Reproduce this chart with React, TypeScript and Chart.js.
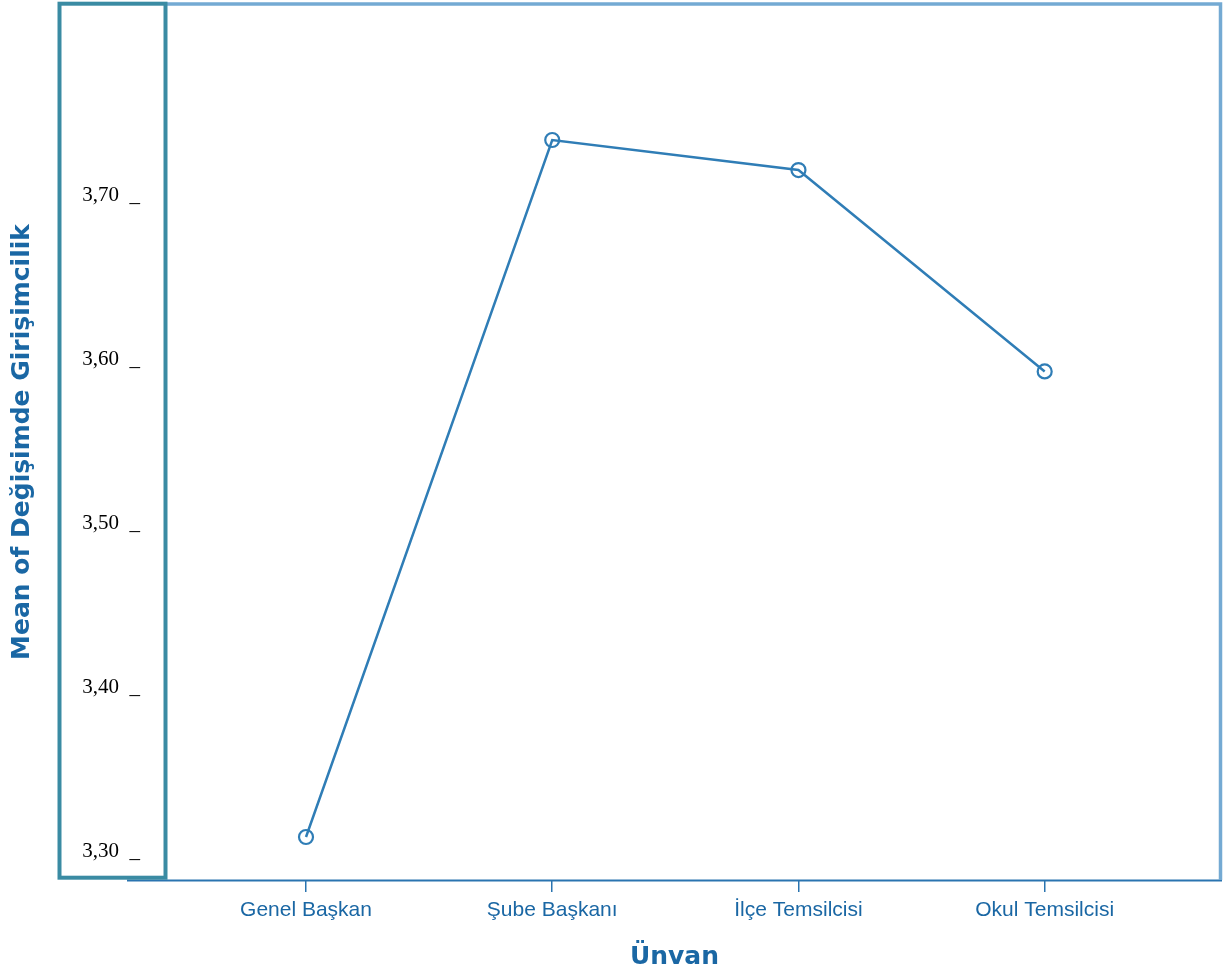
import React, { useEffect, useRef } from "react";
import { Chart, registerables } from "chart.js";

Chart.register(...registerables);

const CATEGORIES = ["Genel Başkan", "Şube Başkanı", "İlçe Temsilcisi", "Okul Temsilcisi"];
const MEANS = [3.307, 3.732, 3.7137, 3.5909];
const Y_TICKS = [3.3, 3.4, 3.5, 3.6, 3.7];
const X_TITLE = "Ünvan";
const Y_TITLE = "Mean of Değişimde Girişimcilik";

const TEXT_BLUE = "#1a67a4";
const LINE_BLUE = "#2f7db6";

const framePlugin = {
  id: "spssFrame",
  afterDraw(chart: any) {
    const { ctx, chartArea } = chart;
    const { left, right, top, bottom } = chartArea;
    ctx.save();
    // bottom axis line
    ctx.strokeStyle = "#2a74b0";
    ctx.lineWidth = 2;
    ctx.beginPath();
    ctx.moveTo(left - 39, bottom + 0.5);
    ctx.lineTo(right + 2, bottom + 0.5);
    ctx.stroke();
    // top and right light frame
    ctx.strokeStyle = "#74aad3";
    ctx.lineWidth = 3.5;
    ctx.beginPath();
    ctx.moveTo(left, top);
    ctx.lineTo(right + 0.5, top);
    ctx.lineTo(right + 0.5, bottom);
    ctx.stroke();
    // left tick box
    ctx.strokeStyle = "#3a8ba3";
    ctx.lineWidth = 4;
    ctx.strokeRect(left - 106.5, top - 0.3, 106, bottom - top - 2);
    // x title
    ctx.fillStyle = TEXT_BLUE;
    ctx.font = 'bold 25px "DejaVu Sans"';
    ctx.textAlign = "center";
    ctx.textBaseline = "middle";
    ctx.fillText(X_TITLE, (left - 39 + right + 2) / 2, bottom + 77);
    ctx.restore();
  },
};

export default function App() {
  const canvasRef = useRef<HTMLCanvasElement | null>(null);

  useEffect(() => {
    const canvas = canvasRef.current;
    if (!canvas) return;
    const chart = new Chart(canvas, {
      type: "line",
      data: {
        datasets: [
          {
            data: MEANS.map((v, i) => ({ x: i, y: v })),
            borderColor: LINE_BLUE,
            borderWidth: 2.5,
            pointRadius: 7,
            pointBorderWidth: 2.2,
            pointBorderColor: LINE_BLUE,
            pointBackgroundColor: "rgba(0,0,0,0)",
            pointStyle: "circle",
            tension: 0,
            fill: false,
            clip: false as any,
          },
        ],
      },
      options: {
        responsive: false,
        maintainAspectRatio: false,
        animation: false,
        devicePixelRatio: 1,
        layout: { autoPadding: false, padding: { top: 4, right: 5, left: 0, bottom: 0 } },
        plugins: { legend: { display: false }, tooltip: { enabled: false }, title: { display: false } },
        scales: {
          x: {
            type: "linear",
            position: "bottom",
            min: -0.5686,
            max: 3.712,
            afterBuildTicks: (scale: any) => {
              scale.ticks = CATEGORIES.map((_, i) => ({ value: i }));
            },
            afterFit: (scale: any) => {
              scale.height = 96;
              scale.paddingLeft = 0;
              scale.paddingRight = 0;
              scale.paddingTop = 0;
              scale.paddingBottom = 0;
            },
            ticks: {
              autoSkip: false,
              maxRotation: 0,
              padding: 6,
              color: TEXT_BLUE,
              font: { family: '"Liberation Sans", Arial', size: 21 },
              callback: (v: any) => CATEGORIES[Math.round(Number(v))] ?? "",
            },
            grid: {
              display: true,
              drawOnChartArea: false,
              drawTicks: true,
              tickLength: 12,
              color: "#2a74b0",
              lineWidth: 1.5,
            },
            border: { display: false },
          },
          y: {
            type: "linear",
            position: "left",
            min: 3.28079,
            max: 3.81494,
            afterBuildTicks: (scale: any) => {
              scale.ticks = Y_TICKS.map((v) => ({ value: v }));
            },
            afterFit: (scale: any) => {
              scale.width = 166;
              scale.paddingLeft = 0;
              scale.paddingRight = 0;
              scale.paddingTop = 0;
              scale.paddingBottom = 0;
            },
            ticks: {
              autoSkip: false,
              padding: 26,
              labelOffset: 3,
              color: "#000000",
              font: { family: '"Liberation Serif", "Times New Roman", serif', size: 21 },
              callback: (v: any) => Number(v).toFixed(2).replace(".", ",") + "  _",
            },
            grid: { display: false, drawTicks: false },
            border: { display: false },
            title: {
              display: true,
              text: Y_TITLE,
              color: TEXT_BLUE,
              font: { family: '"DejaVu Sans"', size: 25, weight: "bold" },
              padding: { top: 7.5, bottom: 0 },
            },
          },
        },
      },
      plugins: [framePlugin],
    });
    return () => chart.destroy();
  }, []);

  return (
    <div style={{ position: "absolute", left: 0, top: 0, width: 1225, height: 976, background: "#ffffff" }}>
      <canvas ref={canvasRef} width={1225} height={976} />
    </div>
  );
}
